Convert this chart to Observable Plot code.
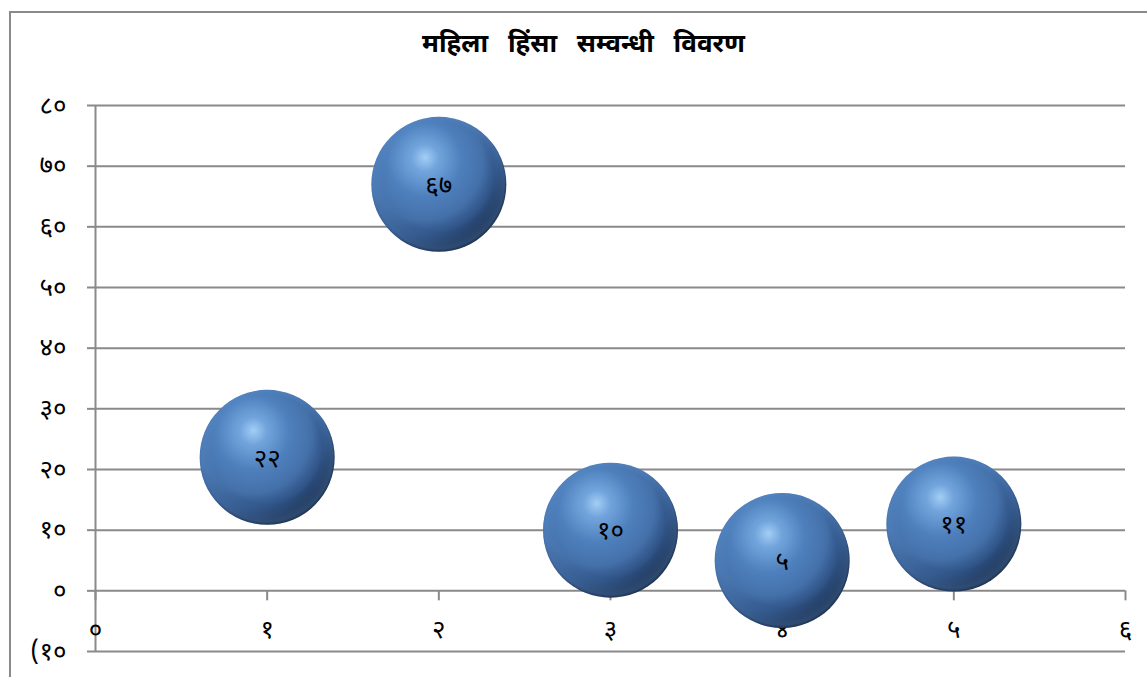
<!DOCTYPE html>
<html>
<head>
<meta charset="utf-8">
<script src="https://cdn.jsdelivr.net/npm/d3@7"></script>
<script src="https://cdn.jsdelivr.net/npm/@observablehq/plot@0.6"></script>
<style>
  html, body { margin: 0; padding: 0; background: #fff; }
  #wrap { position: relative; width: 1147px; height: 677px; overflow: hidden; }
  #frame { position: absolute; left: 9px; top: 11px; width: 1200px; height: 700px; border: 2px solid #8a8a8a; box-sizing: border-box; }
  #title { position: absolute; left: 0; width: 1167px; top: 29px; text-align: center; font-family: "Noto Sans Devanagari", "Lohit Devanagari", Mangal, "FreeSans", sans-serif; font-weight: bold; font-size: 26px; word-spacing: 13px; color: #000; }
  #chart { position: absolute; left: 0; top: 0; }
</style>
</head>
<body>
<div id="wrap">
  <div id="frame"></div>
  <div id="title">महिला हिंसा सम्वन्धी विवरण</div>
  <div id="chart"></div>
</div>
<script>
// Data
const categories = [1, 2, 3, 4, 5];
const values = [22, 67, 10, 5, 11];
const valueLabels = ["२२", "६७", "१०", "५", "११"];
const yTicks = [-10, 0, 10, 20, 30, 40, 50, 60, 70, 80];
const yTickLabels = ["(१०", "०", "१०", "२०", "३०", "४०", "५०", "६०", "७०", "८०"];
const xTicks = [0, 1, 2, 3, 4, 5, 6];
const xTickLabels = ["०", "१", "२", "३", "४", "५", "६"];

const rows = categories.map((c, i) => ({x: c, y: values[i], label: valueLabels[i]}));
const xt = xTicks.map((t, i) => ({x: t, label: xTickLabels[i]}));
const yLab = new Map(yTicks.map((t, i) => [t, yTickLabels[i]]));

const devFont = '"Noto Sans Devanagari", "Lohit Devanagari", Mangal, FreeSans, sans-serif';
const grid = "#8a8a8a";

const chart = Plot.plot({
  width: 1147,
  height: 677,
  marginLeft: 95,
  marginRight: 22,
  marginTop: 105,
  marginBottom: 26,
  style: {background: "transparent", fontFamily: devFont, fontSize: "26px", color: "#000", overflow: "visible"},
  x: {domain: [0, 6], axis: null},
  y: {domain: [-10, 80], ticks: yTicks, tickFormat: d => yLab.get(d), tickSize: 8, tickPadding: 21, label: null},
  marks: [
    Plot.ruleY(yTicks, {stroke: grid, strokeWidth: 2, strokeOpacity: 1}),
    Plot.ruleX([0], {y1: -10, y2: 80, stroke: grid, strokeWidth: 2}),
    Plot.ruleX(xt, {x: "x", y1: 0, y2: 0, insetBottom: -10, stroke: grid, strokeWidth: 2}),
    Plot.text(xt, {x: "x", y: 0, dy: 39, text: "label", fontSize: 26, fill: "#000"}),
    Plot.dot(rows, {x: "x", y: "y", r: 67.5, fill: "url(#sphere)", stroke: "none"}),
    Plot.dot(rows, {x: "x", y: "y", r: 67.5, fill: "url(#rim)", stroke: "none"}),
    Plot.text(rows, {x: "x", y: "y", text: "label", fontSize: 26, fill: "#000", dy: 1})
  ]
});

chart.querySelectorAll("[aria-label='y-axis tick'] path, [aria-label='y-axis tick']").forEach(e => { e.setAttribute("stroke", grid); e.setAttribute("stroke-width", 2); });
chart.querySelectorAll("[aria-label='y-axis tick label'] text").forEach(e => e.setAttribute("font-size", 26));

const ns = "http://www.w3.org/2000/svg";
const defs = document.createElementNS(ns, "defs");
defs.innerHTML = `
  <radialGradient id="sphere" cx="0.38" cy="0.34" r="0.72" fx="0.40" fy="0.30">
    <stop offset="0" stop-color="#a2cef6"/>
    <stop offset="0.14" stop-color="#72a4dc"/>
    <stop offset="0.38" stop-color="#4e80bd"/>
    <stop offset="0.6" stop-color="#4571aa"/>
    <stop offset="0.76" stop-color="#2f5386"/>
    <stop offset="0.88" stop-color="#1b3153"/>
    <stop offset="1" stop-color="#0e1a2c"/>
  </radialGradient>
  <radialGradient id="rim" cx="0.5" cy="0.5" r="0.5" fx="0.5" fy="0.2">
    <stop offset="0.82" stop-color="#5b8cc8" stop-opacity="0"/>
    <stop offset="0.97" stop-color="#5b8cc8" stop-opacity="0.35"/>
    <stop offset="1" stop-color="#5b8cc8" stop-opacity="0.15"/>
  </radialGradient>`;
chart.insertBefore(defs, chart.firstChild);
document.getElementById("chart").appendChild(chart);
</script>
</body>
</html>
